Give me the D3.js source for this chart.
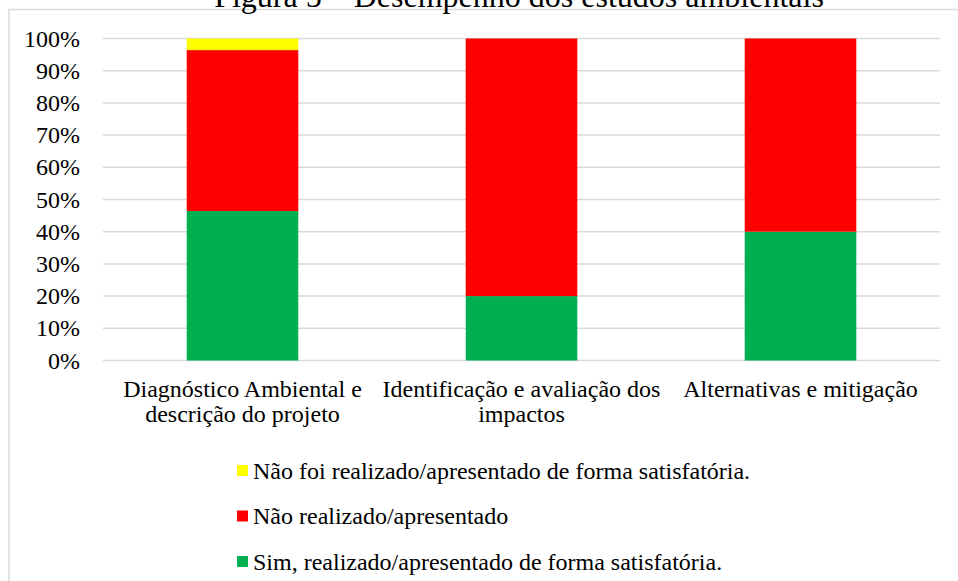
<!DOCTYPE html>
<html>
<head>
<meta charset="utf-8">
<script src="https://cdn.jsdelivr.net/npm/d3@7"></script>
<style>
  html, body { margin: 0; padding: 0; background: #fff; }
  svg { display: block; font-family: "Liberation Serif", "Times New Roman", serif; }
</style>
</head>
<body>
<svg id="chart" width="958" height="581"></svg>
<script>
// ---- data ----
const title = "Figura 5 – Desempenho dos estudos ambientais";
const categories = [
  "Diagnóstico Ambiental e\ndescrição do projeto",
  "Identificação e avaliação dos\nimpactos",
  "Alternativas e mitigação"
];
const seriesNames = [
  "Sim, realizado/apresentado de forma satisfatória.",
  "Não realizado/apresentado",
  "Não foi realizado/apresentado de forma satisfatória."
];
const simValues = [46.4, 20, 40];
const naoValues = [50.0, 80, 60];
const naoFoiValues = [3.6, 0, 0];
const seriesColors = ["#00B050", "#FF0000", "#FFFF00"];
const yTicks = [0, 10, 20, 30, 40, 50, 60, 70, 80, 90, 100];

// ---- layout ----
const svg = d3.select("#chart");
const W = 958, H = 581;
const plot = { left: 103, right: 940, top: 38.5, bottom: 360.5 };
const FONT = "Liberation Serif, Times New Roman, serif";

// frame
svg.append("rect")
  .attr("x", 9).attr("y", 9.5)
  .attr("width", W + 20).attr("height", H + 20)
  .attr("fill", "#fff").attr("stroke", "#d9d9d9").attr("stroke-width", 1.5);

// title (clipped at top as in reference)
svg.append("text")
  .attr("x", 519).attr("y", 7)
  .attr("text-anchor", "middle")
  .attr("font-family", FONT)
  .attr("font-size", 32)
  .attr("fill", "#000")
  .text(title);

const x = d3.scaleBand()
  .domain(categories)
  .range([plot.left, plot.right])
  .paddingInner(0.6)
  .paddingOuter(0.3);

const y = d3.scaleLinear()
  .domain([0, 100])
  .range([plot.bottom, plot.top]);

// gridlines
svg.append("g")
  .selectAll("line")
  .data(yTicks)
  .join("line")
  .attr("x1", plot.left).attr("x2", plot.right)
  .attr("y1", d => y(d)).attr("y2", d => y(d))
  .attr("stroke", "#d9d9d9").attr("stroke-width", 1.5);

// y axis labels
const yAxis = d3.axisLeft(y).tickValues(yTicks).tickFormat(d => d + "%").tickSize(0).tickPadding(0);
const gy = svg.append("g").attr("transform", `translate(80,0)`).call(yAxis)
  .attr("font-family", FONT).attr("font-size", 24);
gy.select(".domain").remove();
gy.selectAll("text")
  .attr("font-family", FONT)
  .attr("font-size", 24)
  .attr("fill", "#000");

// stacked data
const rows = categories.map((c, i) => ({
  cat: c,
  [seriesNames[0]]: simValues[i],
  [seriesNames[1]]: naoValues[i],
  [seriesNames[2]]: naoFoiValues[i]
}));
const stack = d3.stack().keys(seriesNames);
const stacked = stack(rows);
const color = d3.scaleOrdinal().domain(seriesNames).range(seriesColors);

svg.append("g")
  .selectAll("g")
  .data(stacked)
  .join("g")
  .attr("fill", d => color(d.key))
  .selectAll("rect")
  .data(d => d)
  .join("rect")
  .attr("x", d => x(d.data.cat))
  .attr("width", x.bandwidth())
  .attr("y", d => y(d[1]))
  .attr("height", d => Math.max(0, y(d[0]) - y(d[1])));

// x axis labels
const xAxis = d3.axisBottom(x).tickSize(0).tickFormat("");
const gx = svg.append("g").attr("transform", `translate(0,${plot.bottom})`).call(xAxis)
  .attr("font-family", FONT).attr("font-size", 24);
gx.select(".domain").remove();
gx.selectAll(".tick").each(function(d) {
  const lines = d.split("\n");
  const t = d3.select(this).append("text")
    .attr("text-anchor", "middle")
    .attr("font-family", FONT)
    .attr("font-size", 24)
    .attr("fill", "#000");
  lines.forEach((ln, i) => {
    t.append("tspan").attr("x", 0).attr("y", 36 + i * 25.5).text(ln);
  });
});

// legend (reverse order: yellow, red, green)
const legendItems = seriesNames.slice().reverse();
const lg = svg.append("g").attr("transform", "translate(237,0)");
legendItems.forEach((name, i) => {
  const cy = 470.5 + i * 45.5;
  lg.append("rect")
    .attr("x", 0).attr("y", cy - 5.5)
    .attr("width", 11).attr("height", 11)
    .attr("fill", color(name));
  lg.append("text")
    .attr("x", 16).attr("y", cy + 8)
    .attr("font-family", FONT)
    .attr("font-size", 24)
    .attr("fill", "#000")
    .text(name);
});
</script>
</body>
</html>
